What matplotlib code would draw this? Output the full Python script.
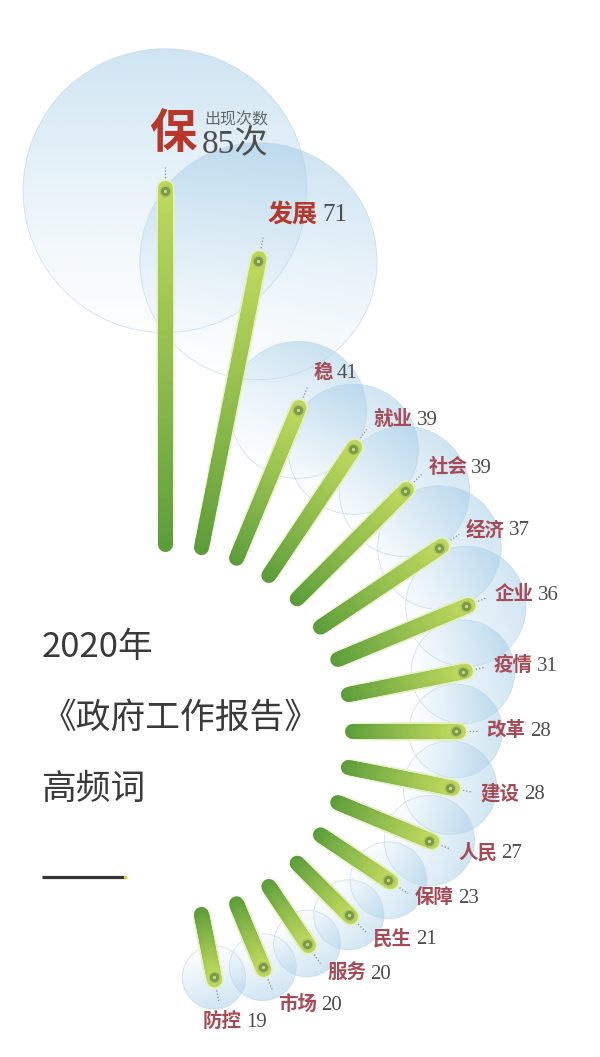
import numpy as np
import matplotlib
matplotlib.use("Agg")
import matplotlib.pyplot as plt
from matplotlib.collections import LineCollection
from matplotlib.patches import Circle
from matplotlib.colors import to_rgb

# ---------------- data ----------------
words = ["保", "发展", "稳", "就业", "社会", "经济", "企业", "疫情",
         "改革", "建设", "人民", "保障", "民生", "服务", "市场", "防控"]
counts = [85, 71, 41, 39, 39, 37, 36, 31, 28, 28, 27, 23, 21, 20, 20, 19]
title_lines = ["2020年", "《政府工作报告》", "高频词"]
top_note = "出现次数"
unit = "次"

CJK = ["Noto Sans CJK SC", "DejaVu Sans"]
SERIF = ["Liberation Serif", "Noto Sans CJK SC", "DejaVu Serif"]

W, H = 600, 1057
fig = plt.figure(figsize=(W / 100, H / 100), dpi=100)
ax = fig.add_axes([0, 0, 1, 1])
ax.set_axis_off()
# data units = pixels, origin at the fan centre
CX, CY = 165, 731
XL, YL = (-CX, W - CX), (-(H - CY), CY)

n = len(words)
step = 180.0 / n
angles = np.deg2rad(90 - step * np.arange(n))
vals = np.array(counts, dtype=float)
R_IN = 187.0
R_BASE, K = 168.0, 4.38
dot_r = R_BASE + K * vals
bubble_r = 1.67 * vals

ux, uy = np.cos(angles), np.sin(angles)
dx, dy = dot_r * ux, dot_r * uy

# ---------------- bubbles ----------------
blue = np.array(to_rgb("#8fc2e2"))
for i in range(n):
    R = bubble_r[i]
    g = np.linspace(-1, 1, 120)
    X, Y = np.meshgrid(g, g)
    t = X * ux[i] + Y * uy[i]
    a = 0.03 + 0.40 * ((t + 1) / 2) ** 1.3
    img = np.zeros((120, 120, 4))
    img[..., :3] = blue
    img[..., 3] = a
    clip = Circle((dx[i], dy[i]), R, transform=ax.transData, facecolor="none", edgecolor="none")
    ax.add_patch(clip)
    im = ax.imshow(img, extent=[dx[i] - R, dx[i] + R, dy[i] - R, dy[i] + R],
                   origin="lower", interpolation="bilinear", zorder=1 + i * 0.01)
    im.set_clip_path(clip)
    ax.add_patch(Circle((dx[i], dy[i]), R, facecolor="none",
                        edgecolor=(0.74, 0.84, 0.91), lw=0.6, alpha=0.7, zorder=1.2 + i * 0.01))

# ---------------- bars ----------------
c_in = np.array(to_rgb("#5a9c3a"))
c_out = np.array(to_rgb("#bcd75c"))
glow = np.array(to_rgb("#e6f0c0"))
px2pt = 72 / 100
for i in range(n):
    r0, r1 = R_IN, dot_r[i] + 2.5
    m = 40
    rr = np.linspace(r0, r1, m + 1)
    segs = [[(rr[k] * ux[i], rr[k] * uy[i]), (rr[k + 1] * ux[i], rr[k + 1] * uy[i])] for k in range(m)]
    fr = np.linspace(0, 1, m)[:, None]
    gcols = np.hstack([np.repeat(glow[None, :], m, 0), 0.15 + 0.85 * fr])
    ax.add_collection(LineCollection(segs, colors=gcols, linewidths=18.5 * px2pt,
                                     capstyle="round", zorder=3))
    cols = c_in * (1 - fr ** 0.9) + c_out * fr ** 0.9
    ax.add_collection(LineCollection(segs, colors=cols, linewidths=15 * px2pt,
                                     capstyle="round", zorder=3.2))

# dots on bar tips
ax.scatter(dx, dy, s=(10.5 * px2pt) ** 2, c="#7c9a44", edgecolors="#a9c466", linewidths=1.0, zorder=4)
ax.scatter(dx, dy, s=(3.2 * px2pt) ** 2, c="#c9dc8e", linewidths=0, zorder=4.1)

# ---------------- labels ----------------
word_red = "#b8372b"
word_rose = "#a84a55"
num_grey = "#4d4d4d"
for i in range(n):
    deg = np.rad2deg(angles[i])
    if i == 0:
        d = 57
    elif i == 1:
        d = 48
    else:
        d = 31 + 0.004 * (abs(deg) - 20) ** 2 if abs(deg) > 20 else 31
    # dotted leader
    l0, l1 = dot_r[i] + 10, dot_r[i] + min(d - 8, 24)
    ax.plot([l0 * ux[i], l1 * ux[i]], [l0 * uy[i], l1 * uy[i]], color="#8a8a8a",
            lw=0.9, ls=(0, (1, 1.6)), zorder=2.5)
    lx, ly = dx[i] + d * ux[i], dy[i] + d * uy[i]
    if i == 0:
        t = ax.text(dx[i] - 16, ly, words[i], family=CJK, fontweight="bold", fontsize=34,
                    color=word_red, ha="left", va="center", zorder=5)
        ax.annotate(top_note, xy=(1, 0.78), xycoords=t, xytext=(6, 0), textcoords="offset points",
                    family=CJK, fontsize=11.5, color="#666666", ha="left", va="center", zorder=5)
        ax.annotate(f"{counts[i]}{unit}", xy=(1, 0.28), xycoords=t, xytext=(4, 0),
                    textcoords="offset points", family=SERIF, fontsize=24, color=num_grey,
                    ha="left", va="center", zorder=5)
        continue
    if deg < -75:
        lx -= 20
    big = i == 1
    t = ax.text(lx, ly, words[i], family=CJK, fontweight="bold", fontsize=18 if big else 14,
                color=word_red if big else word_rose, ha="left", va="center", zorder=5)
    ax.annotate(str(counts[i]), xy=(1, 0.45), xycoords=t, xytext=(3, 0), textcoords="offset points",
                family=SERIF, fontsize=18 if big else 15, color=num_grey,
                ha="left", va="center", zorder=5)

# ---------------- title ----------------
title_y = [648, 718, 790]
for s, y in zip(title_lines, title_y):
    ax.text(42 - CX, CY - y, s, family=CJK, fontweight="light", fontsize=25, color="#3a3a3a",
            ha="left", va="center", zorder=5)
ax.plot([42 - CX, 124 - CX], [CY - 877, CY - 877], color="#333333", lw=2.3, solid_capstyle="butt", zorder=5)
ax.plot([125 - CX], [CY - 877], marker="o", ms=2.6, color="#f2c230", mec="none", zorder=5)

ax.set_xlim(*XL)
ax.set_ylim(*YL)
ax.set_aspect("auto")
fig.savefig("out.png", dpi=100, facecolor="white")
